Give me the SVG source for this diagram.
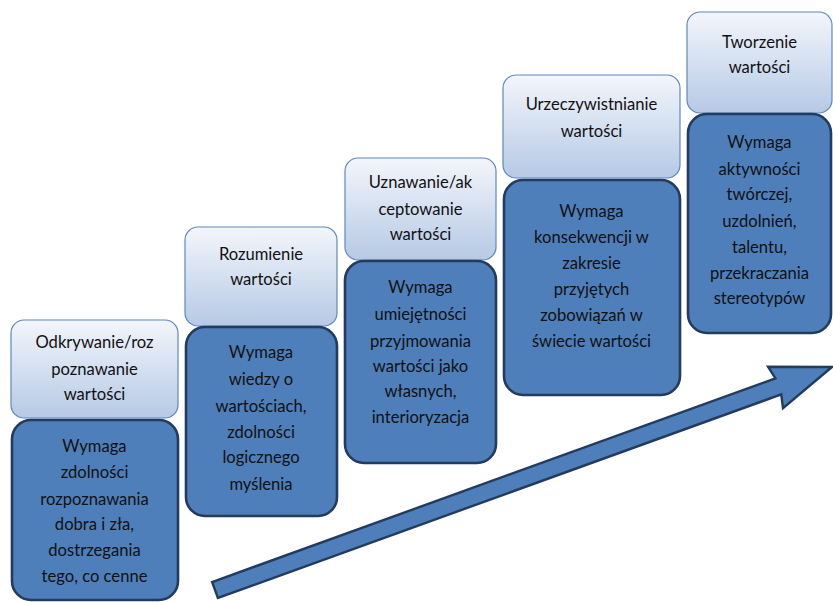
<svg xmlns="http://www.w3.org/2000/svg" width="833" height="602" viewBox="0 0 833 602">
<defs>
<linearGradient id="hg" x1="0" y1="0" x2="0" y2="1">
<stop offset="0" stop-color="#f3f6fb"/>
<stop offset="1" stop-color="#b6c9e5"/>
</linearGradient>
<style>
.h{fill:url(#hg);stroke:#5f88c0;stroke-width:1.2}
.b{fill:#4f7fba;stroke:#233b5e;stroke-width:2.6}
text{font-family:Lato,"Liberation Sans",sans-serif;font-size:16.6px;fill:#111;text-anchor:middle}
.arrow{fill:#4f7fba;stroke:#233b5e;stroke-width:2.4;stroke-linejoin:miter}
</style>
</defs>
<rect width="833" height="602" fill="#fff"/>
<g id="step1">
<rect class="h" x="11" y="320" width="167" height="98" rx="13"/>
<text x="94.5" y="348">Odkrywanie/roz</text>
<text x="94.5" y="375">poznawanie</text>
<text x="94.5" y="400">wartości</text>
<rect class="b" x="12" y="420" width="166" height="180" rx="19"/>
<text x="94.5" y="452">Wymaga</text>
<text x="94.5" y="478">zdolności</text>
<text x="94.5" y="505">rozpoznawania</text>
<text x="94.5" y="530">dobra i zła,</text>
<text x="94.5" y="556">dostrzegania</text>
<text x="94.5" y="582">tego, co cenne</text>
</g>
<g id="step2">
<rect class="h" x="185" y="227" width="152" height="99" rx="13"/>
<text x="261" y="260">Rozumienie</text>
<text x="261" y="285">wartości</text>
<rect class="b" x="186" y="327" width="151" height="189" rx="19"/>
<text x="261" y="358">Wymaga</text>
<text x="261" y="385">wiedzy o</text>
<text x="261" y="412">wartościach,</text>
<text x="261" y="438">zdolności</text>
<text x="261" y="463">logicznego</text>
<text x="261" y="490">myślenia</text>
</g>
<g id="step3">
<rect class="h" x="345" y="158" width="151" height="102" rx="13"/>
<text x="420.5" y="188">Uznawanie/ak</text>
<text x="420.5" y="215">ceptowanie</text>
<text x="420.5" y="240">wartości</text>
<rect class="b" x="345" y="261" width="151" height="202" rx="19"/>
<text x="420.5" y="293">Wymaga</text>
<text x="420.5" y="320">umiejętności</text>
<text x="420.5" y="347">przyjmowania</text>
<text x="420.5" y="372">wartości jako</text>
<text x="420.5" y="397">własnych,</text>
<text x="420.5" y="423">interioryzacja</text>
</g>
<g id="step4">
<rect class="h" x="503" y="75" width="177" height="103" rx="13"/>
<text x="591.5" y="110">Urzeczywistnianie</text>
<text x="591.5" y="137">wartości</text>
<rect class="b" x="504" y="180" width="176" height="215" rx="19"/>
<text x="591.5" y="217">Wymaga</text>
<text x="591.5" y="243">konsekwencji w</text>
<text x="591.5" y="269">zakresie</text>
<text x="591.5" y="295">przyjętych</text>
<text x="591.5" y="321">zobowiązań w</text>
<text x="591.5" y="347">świecie wartości</text>
</g>
<g id="step5">
<rect class="h" x="687" y="12" width="145" height="101" rx="13"/>
<text x="759.5" y="48">Tworzenie</text>
<text x="759.5" y="73">wartości</text>
<rect class="b" x="688" y="114" width="143" height="219" rx="19"/>
<text x="759.5" y="148">Wymaga</text>
<text x="759.5" y="175">aktywności</text>
<text x="759.5" y="200">twórczej,</text>
<text x="759.5" y="227">uzdolnień,</text>
<text x="759.5" y="253">talentu,</text>
<text x="759.5" y="279">przekraczania</text>
<text x="759.5" y="304">stereotypów</text>
</g>
<g id="connectors">
<polygon class="arrow" transform="translate(215 590) rotate(-19.87)" points="0,-8.5 599,-8.5 596,-22 656,0 596,22 599,8.5 0,8.5"/>
</g>
</svg>
